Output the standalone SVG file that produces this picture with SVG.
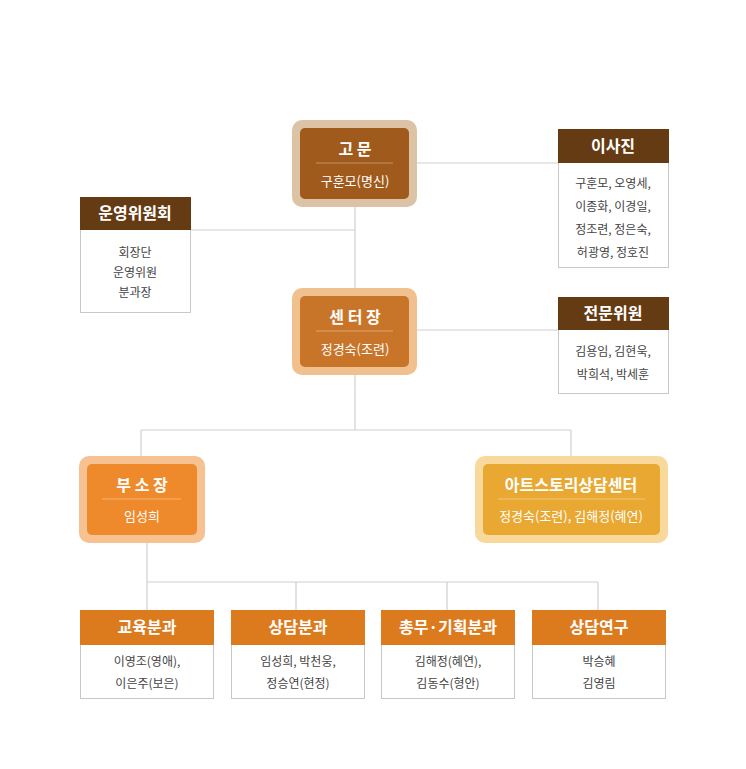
<svg xmlns="http://www.w3.org/2000/svg" width="746" height="769" viewBox="0 0 746 769">
<style>
text{font-family:"Noto Sans CJK KR","Noto Sans",sans-serif;text-anchor:middle}
.t{fill:#fff;font-size:16px;font-weight:bold}
.s{fill:#fff;font-size:13px}
.b{fill:#444;font-size:12px}
.bx{fill:#fff;stroke:#c8c8c8;stroke-width:1}
.ln{stroke:#cfcfcf;stroke-width:1.2;fill:none}
.dv{stroke:#ffffff;stroke-opacity:.35;stroke-width:1}
</style>
<rect width="746" height="769" fill="#fff"/>
<g id="connectors" class="ln">
<path d="M355 207V288M355 163H558M190 230H355M355 330H558M355 374V430M141 430H571M141 430V456M571 430V456M147 542V582M147 582H598M147 582V610M296 582V610M447 582V610M598 582V610"/>
</g>
<g id="gomun">
<rect x="292" y="120" width="125" height="87" rx="10" fill="#dcc3a6"/>
<rect x="300" y="128" width="109" height="71" rx="5" fill="#a05a1b"/>
<line class="dv" x1="316" y1="163" x2="393" y2="163"/>
<text class="t" x="355" y="155">고 문</text>
<text class="s" x="355" y="186">구훈모(명신)</text>
</g>
<g id="isajin">
<rect class="bx" x="558.5" y="129.5" width="110" height="138"/>
<rect x="558" y="129" width="111" height="34" fill="#643b12"/>
<text class="t" x="613" y="152">이사진</text>
<text class="b" x="613" y="188">구훈모, 오영세,</text>
<text class="b" x="613" y="211">이종화, 이경일,</text>
<text class="b" x="613" y="234">정조련, 정은숙,</text>
<text class="b" x="613" y="257">허광영, 정호진</text>
</g>
<g id="unyoung">
<rect class="bx" x="80.5" y="197.5" width="110" height="115"/>
<rect x="80" y="197" width="111" height="33" fill="#643b12"/>
<text class="t" x="135" y="219">운영위원회</text>
<text class="b" x="135" y="257">회장단</text>
<text class="b" x="135" y="277">운영위원</text>
<text class="b" x="135" y="297">분과장</text>
</g>
<g id="center">
<rect x="292" y="288" width="125" height="87" rx="10" fill="#f0c08e"/>
<rect x="300" y="296" width="109" height="71" rx="5" fill="#c8752a"/>
<line class="dv" x1="316" y1="331" x2="393" y2="331"/>
<text class="t" x="355" y="323">센 터 장</text>
<text class="s" x="355" y="354">정경숙(조련)</text>
</g>
<g id="jeonmun">
<rect class="bx" x="558.5" y="297.5" width="110" height="96"/>
<rect x="558" y="297" width="111" height="33" fill="#643b12"/>
<text class="t" x="613" y="319">전문위원</text>
<text class="b" x="613" y="356">김용임, 김현욱,</text>
<text class="b" x="613" y="379">박희석, 박세훈</text>
</g>
<g id="busojang">
<rect x="79" y="456" width="126" height="87" rx="10" fill="#f6c291"/>
<rect x="87" y="464" width="110" height="71" rx="5" fill="#ee8a2b"/>
<line class="dv" x1="102" y1="499" x2="181" y2="499"/>
<text class="t" x="142" y="491">부 소 장</text>
<text class="s" x="142" y="521">임성희</text>
</g>
<g id="artstory">
<rect x="475" y="456" width="193" height="87" rx="10" fill="#f8d99b"/>
<rect x="483" y="464" width="177" height="71" rx="5" fill="#e8a832"/>
<line class="dv" x1="498" y1="499" x2="645" y2="499"/>
<text class="t" x="571" y="491">아트스토리상담센터</text>
<text class="s" x="571" y="521">정경숙(조련), 김해정(혜연)</text>
</g>
<g id="edu">
<rect class="bx" x="80.5" y="610.5" width="133" height="88"/>
<rect x="80" y="610" width="134" height="35" fill="#dc7a1e"/>
<text class="t" x="147" y="633">교육분과</text>
<text class="b" x="147" y="666">이영조(영애),</text>
<text class="b" x="147" y="688">이은주(보은)</text>
</g>
<g id="sangdam">
<rect class="bx" x="231.5" y="610.5" width="133" height="88"/>
<rect x="231" y="610" width="134" height="35" fill="#dc7a1e"/>
<text class="t" x="298" y="633">상담분과</text>
<text class="b" x="298" y="666">임성희, 박천웅,</text>
<text class="b" x="298" y="688">정승연(현정)</text>
</g>
<g id="chongmu">
<rect class="bx" x="381.5" y="610.5" width="133" height="88"/>
<rect x="381" y="610" width="134" height="35" fill="#dc7a1e"/>
<text class="t" x="448" y="633">총무·기획분과</text>
<text class="b" x="448" y="666">김해정(혜연),</text>
<text class="b" x="448" y="688">김동수(형안)</text>
</g>
<g id="research">
<rect class="bx" x="532.5" y="610.5" width="133" height="88"/>
<rect x="532" y="610" width="134" height="35" fill="#dc7a1e"/>
<text class="t" x="599" y="633">상담연구</text>
<text class="b" x="599" y="666">박승혜</text>
<text class="b" x="599" y="688">김영림</text>
</g>
</svg>
